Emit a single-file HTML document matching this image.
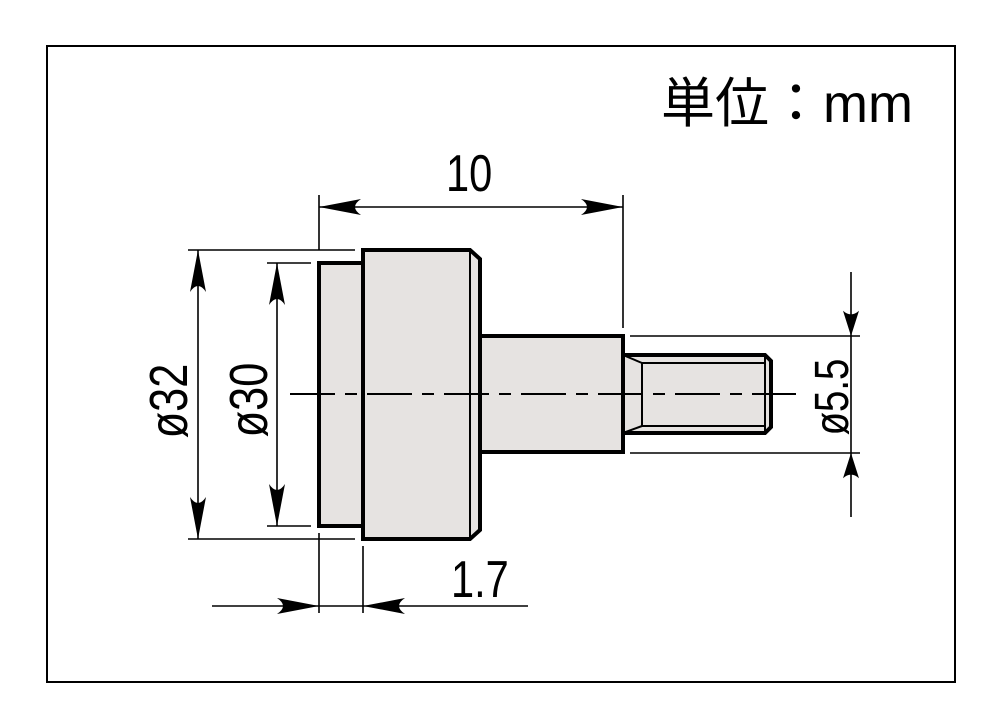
<!DOCTYPE html>
<html><head><meta charset="utf-8"><style>
html,body{margin:0;padding:0;background:#fff;}
svg{display:block;}
text{font-family:"Liberation Sans","Noto Sans CJK JP",sans-serif;fill:#000;}
</style></head><body>
<svg width="1000" height="728" viewBox="0 0 1000 728" xmlns="http://www.w3.org/2000/svg">
<defs>
<path id="ar" d="M0,0 L-42,-8 Q-30,0 -42,8 Z" fill="#000"/>
</defs>
<rect x="47" y="46" width="908" height="636" fill="#fff" stroke="#000" stroke-width="2"/>
<text x="0" y="0" font-size="54" transform="translate(661,122)">単位：mm</text>

<!-- part -->
<g stroke="#000" stroke-width="4" fill="#e6e3e1" stroke-linejoin="miter">
<rect x="319" y="263" width="44" height="263"/>
<path d="M363,250 H470 L480,259 V530 L470,539 H363 Z"/>
<rect x="480" y="336" width="143" height="116"/>
<path d="M623,355 H765 L771,361 V427 L765,433 H623 Z"/>
</g>
<g stroke="#000" stroke-width="2" fill="none">
<line x1="470" y1="250" x2="470" y2="539"/>
<line x1="623" y1="355" x2="642" y2="363"/>
<line x1="623" y1="433" x2="642" y2="426"/>
<line x1="642" y1="363" x2="642" y2="426"/>
<line x1="642" y1="363" x2="765" y2="363"/>
<line x1="642" y1="426" x2="765" y2="426"/>
<line x1="765" y1="355" x2="765" y2="433"/>
</g>
<!-- centerline -->
<line x1="290" y1="394" x2="796" y2="394" stroke="#000" stroke-width="2" stroke-dasharray="45,10,12,10"/>

<!-- dimension lines -->
<g stroke="#000" stroke-width="1.6" fill="none">
<line x1="319" y1="195" x2="319" y2="250"/>
<line x1="623" y1="195" x2="623" y2="328"/>
<line x1="319" y1="207" x2="623" y2="207"/>
<line x1="188" y1="250" x2="355" y2="250"/>
<line x1="188" y1="539" x2="355" y2="539"/>
<line x1="198" y1="250" x2="198" y2="539"/>
<line x1="267" y1="263" x2="311" y2="263"/>
<line x1="267" y1="526" x2="311" y2="526"/>
<line x1="277" y1="263" x2="277" y2="526"/>
<line x1="630" y1="336" x2="860" y2="336"/>
<line x1="630" y1="453" x2="860" y2="453"/>
<line x1="851" y1="272" x2="851" y2="517"/>
<line x1="319" y1="533" x2="319" y2="613"/>
<line x1="363" y1="546" x2="363" y2="613"/>
<line x1="212" y1="606" x2="528" y2="606"/>
</g>
<!-- arrows -->
<use href="#ar" transform="translate(319,207) rotate(180)"/>
<use href="#ar" transform="translate(623,207)"/>
<use href="#ar" transform="translate(198,250) rotate(-90)"/>
<use href="#ar" transform="translate(198,539) rotate(90)"/>
<use href="#ar" transform="translate(277,263) rotate(-90)"/>
<use href="#ar" transform="translate(277,526) rotate(90)"/>
<use href="#ar" transform="translate(851,336) rotate(90) scale(0.6,1)"/>
<use href="#ar" transform="translate(851,453) rotate(-90) scale(0.6,1)"/>
<use href="#ar" transform="translate(319,606)"/>
<use href="#ar" transform="translate(363,606) rotate(180)"/>

<!-- labels -->
<text font-size="52" transform="translate(446,191) scale(0.8,1)">10</text>
<text font-size="52" transform="translate(451,597) scale(0.8,1)">1.7</text>
<text font-size="54" text-anchor="middle" transform="translate(187,401) rotate(-90) scale(0.8,1)">ø32</text>
<text font-size="54" text-anchor="middle" transform="translate(267,400) rotate(-90) scale(0.8,1)">ø30</text>
<text font-size="48" text-anchor="middle" transform="translate(848,397) rotate(-90) scale(0.8,1)">ø5.5</text>
</svg>
</body></html>
